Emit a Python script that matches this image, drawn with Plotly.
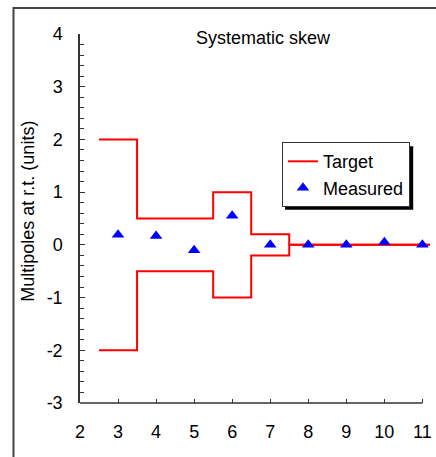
import plotly.graph_objects as go

# Target band (step edges)
target_x = [2.5, 3.5, 3.5, 5.5, 5.5, 6.5, 6.5, 7.5, 7.5, 11.2]
target_upper = [2, 2, 0.5, 0.5, 1, 1, 0.2, 0.2, 0, 0]
target_lower = [-2, -2, -0.5, -0.5, -1, -1, -0.2, -0.2, 0, 0]

# Measured values
measured_x = [3, 4, 5, 6, 7, 8, 9, 10, 11]
measured_y = [0.19, 0.17, -0.1, 0.55, 0.0, 0.0, 0.0, 0.05, 0.0]

x_ticks = [2, 3, 4, 5, 6, 7, 8, 9, 10, 11]
y_ticks = [-3, -2, -1, 0, 1, 2, 3, 4]

FONT = "Arial, Liberation Sans, sans-serif"

fig = go.Figure()
fig.add_trace(go.Scatter(x=target_x, y=target_upper, mode="lines",
                         line=dict(color="#ff0000", width=2), name="Target",
                         legendgroup="t", cliponaxis=False))
fig.add_trace(go.Scatter(x=target_x, y=target_lower, mode="lines",
                         line=dict(color="#ff0000", width=2), name="Target",
                         legendgroup="t", showlegend=False, cliponaxis=False))
fig.add_trace(go.Scatter(x=measured_x, y=measured_y, mode="markers",
                         marker=dict(symbol="triangle-up", size=11, color="#0000ff"),
                         name="Measured", cliponaxis=False))

fig.update_layout(
    width=436, height=457,
    margin=dict(l=80, r=4, t=34, b=54),
    paper_bgcolor="white", plot_bgcolor="white",
    font=dict(family=FONT, size=18, color="black"),
    showlegend=True,
    legend=dict(x=0.577, y=0.707, xanchor="left", yanchor="top",
                bgcolor="white", bordercolor="#333", borderwidth=1,
                font=dict(size=18), tracegroupgap=0, itemwidth=30),
    xaxis=dict(range=[2, 11.2], tickvals=x_ticks, ticktext=[str(v) for v in x_ticks],
               showgrid=False, zeroline=False, showline=False,
               ticks="inside", ticklen=4, tickcolor="#333", tickwidth=1,
               ticklabelstandoff=16, tickfont=dict(size=18)),
    yaxis=dict(range=[-3, 4], tickvals=y_ticks, ticktext=[str(v) for v in y_ticks],
               showgrid=False, zeroline=False, showline=True, linecolor="#333", linewidth=1.5,
               ticks="inside", ticklen=5, tickcolor="#333", tickwidth=1,
               minor=dict(dtick=0.2, ticks="inside", ticklen=4, tickcolor="#333", showgrid=False),
               ticklabelstandoff=12, tickfont=dict(size=18)),
    annotations=[
        dict(text="Systematic skew", x=0.5256, y=0.989, xref="paper", yref="paper",
             showarrow=False, font=dict(size=18), xanchor="center", yanchor="middle"),
        dict(text="Multipoles at r.t. (units)", x=-0.148, y=0.519, xref="paper", yref="paper",
             showarrow=False, textangle=-90, font=dict(size=18), xanchor="center", yanchor="middle"),
    ],
    shapes=[
        # x axis line from 2 to 11
        dict(type="line", xref="x", yref="y domain", x0=2, x1=11, y0=0, y1=0,
             line=dict(color="#333", width=1.5)),
        # outer frame
        dict(type="rect", xref="paper", yref="paper", x0=-0.19, x1=1.05, y0=-0.3, y1=1.0705,
             line=dict(color="#444", width=2), layer="below"),
        # legend shadow
        dict(type="rect", xref="paper", yref="paper", x0=0.586, x1=0.952, y0=0.524, y1=0.696,
             fillcolor="black", line=dict(width=0), layer="above"),
    ],
)

fig.write_html("out.html")
